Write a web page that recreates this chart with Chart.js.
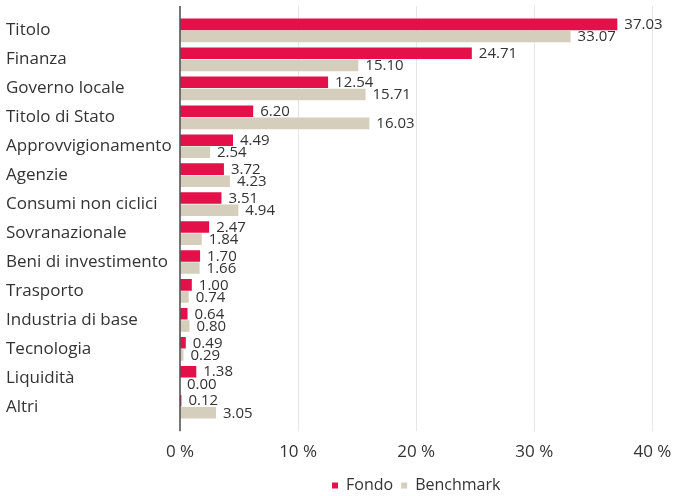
<!DOCTYPE html>
<html>
<head>
<meta charset="utf-8">
<script src="https://cdn.jsdelivr.net/npm/chart.js@4/dist/chart.umd.min.js"></script>
<style>
  html, body { margin: 0; padding: 0; background: #ffffff; }
  #wrap { width: 678px; height: 496px; }
</style>
</head>
<body>
<div id="wrap"><canvas id="c" width="678" height="496"></canvas></div>
<script>
const categories = [
  "Titolo", "Finanza", "Governo locale", "Titolo di Stato", "Approvvigionamento",
  "Agenzie", "Consumi non ciclici", "Sovranazionale", "Beni di investimento",
  "Trasporto", "Industria di base", "Tecnologia", "Liquidità", "Altri"
];
const fondo = [37.03, 24.71, 12.54, 6.20, 4.49, 3.72, 3.51, 2.47, 1.70, 1.00, 0.64, 0.49, 1.38, 0.12];
const benchmark = [33.07, 15.10, 15.71, 16.03, 2.54, 4.23, 4.94, 1.84, 1.66, 0.74, 0.80, 0.29, 0.00, 3.05];
const seriesNames = ["Fondo", "Benchmark"];
const xTicks = [0, 10, 20, 30, 40];

const RED = "#e3104a";
const BEIGE = "#d5cebd";
const TEXT = "#333333";
const FONT = "'Open Sans', 'Noto Sans', sans-serif";

const EXT = 10;

const gridPlugin = {
  id: "extGrid",
  beforeDatasetsDraw(chart) {
    const ctx = chart.ctx;
    const area = chart.chartArea;
    const xs = chart.scales.x;
    ctx.save();
    ctx.strokeStyle = "#e6e6e6";
    ctx.lineWidth = 1;
    xTicks.forEach(v => {
      if (v === 0) return;
      const px = Math.round(xs.getPixelForValue(v)) + 0.5;
      ctx.beginPath();
      ctx.moveTo(px, area.top - EXT);
      ctx.lineTo(px, area.bottom + EXT);
      ctx.stroke();
    });
    ctx.restore();
  },
  afterDatasetsDraw(chart) {
    const ctx = chart.ctx;
    const area = chart.chartArea;
    const xs = chart.scales.x;
    ctx.save();
    ctx.strokeStyle = "#555555";
    ctx.lineWidth = 1.6;
    const px = xs.getPixelForValue(0);
    ctx.beginPath();
    ctx.moveTo(px, area.top - EXT);
    ctx.lineTo(px, area.bottom + EXT);
    ctx.stroke();

    ctx.fillStyle = TEXT;
    ctx.font = "15px " + FONT;
    ctx.textAlign = "left";
    ctx.textBaseline = "middle";
    chart.data.datasets.forEach((ds, di) => {
      const meta = chart.getDatasetMeta(di);
      meta.data.forEach((bar, i) => {
        ctx.fillText(ds.data[i].toFixed(2), bar.x + 7, bar.y + 0.5);
      });
    });
    ctx.restore();
  },
  afterLayout(chart) {
    if (chart.legend) {
      chart.legend.top += 7.5;
      chart.legend.bottom += 7.5;
    }
  }
};

new Chart(document.getElementById("c"), {
  type: "bar",
  data: {
    labels: categories,
    datasets: [
      { label: seriesNames[0], data: fondo, backgroundColor: RED, borderWidth: 0,
        categoryPercentage: 0.84, barPercentage: 0.95 },
      { label: seriesNames[1], data: benchmark, backgroundColor: BEIGE, borderWidth: 0,
        categoryPercentage: 0.84, barPercentage: 0.95 }
    ]
  },
  options: {
    indexAxis: "y",
    responsive: false,
    animation: false,
    devicePixelRatio: 1,
    layout: { padding: { left: 6, top: 16, right: 25.6, bottom: 0 } },
    scales: {
      x: {
        type: "linear",
        min: 0, max: 40,
        afterBuildTicks: s => { s.ticks = xTicks.map(v => ({ value: v })); },
        afterFit: s => { s.height = 40.8; s.paddingLeft = 0; s.paddingRight = 0; },
        grid: { display: false, drawTicks: false },
        border: { display: false },
        ticks: {
          padding: 20.5,
          color: TEXT,
          font: { family: FONT, size: 17 },
          callback: v => v + " %"
        }
      },
      y: {
        type: "category",
        grid: { display: false, drawTicks: false },
        border: { display: false },
        afterFit: s => { s.width = 174; s.paddingTop = 0; s.paddingBottom = 0; },
        ticks: {
          crossAlign: "far",
          padding: 8,
          color: TEXT,
          font: { family: FONT, size: 17 }
        }
      }
    },
    plugins: {
      legend: {
        position: "bottom",
        fullSize: false,
        labels: {
          usePointStyle: true,
          pointStyle: "rect",
          boxWidth: 6,
          boxHeight: 6,
          padding: 8,
          color: TEXT,
          font: { family: FONT, size: 16 }
        }
      },
      tooltip: { enabled: false }
    }
  },
  plugins: [gridPlugin]
});
</script>
</body>
</html>
